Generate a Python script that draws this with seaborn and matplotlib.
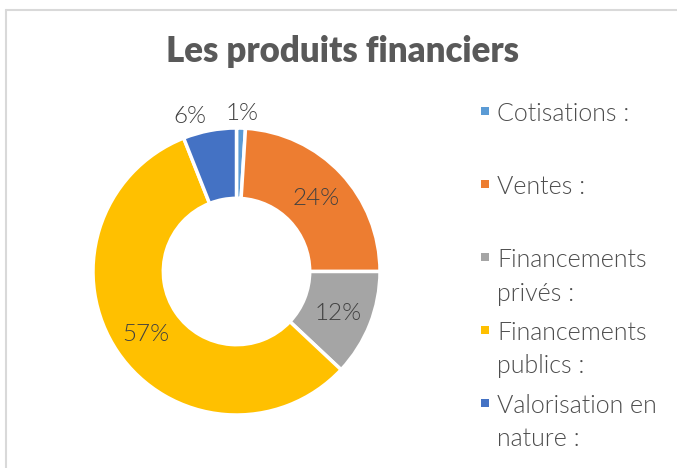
import matplotlib
matplotlib.use("Agg")
import matplotlib.pyplot as plt
import seaborn as sns
import numpy as np
from matplotlib.patches import Rectangle

# ---- data ----
categories = ["Cotisations :", "Ventes :", "Financements\nprivés :",
              "Financements\npublics :", "Valorisation en\nnature :"]
values = [1, 24, 12, 57, 6]
pct_labels = ["1%", "24%", "12%", "57%", "6%"]
title = "Les produits financiers"
colors = ["#5B9BD5", "#ED7D31", "#A5A5A5", "#FFC000", "#4472C4"]

sns.set_theme(style="white")
plt.rcParams['font.family'] = ['Lato', 'DejaVu Sans']
palette = sns.color_palette(colors)

W, H = 677, 468
fig = plt.figure(figsize=(W / 100, H / 100), dpi=100)
fig.patch.set_facecolor("white")

# frame lines (chart area border)
fig.add_artist(plt.Line2D([6 / W, 1], [1 - 10 / H, 1 - 10 / H], color="#D9D9D9", lw=1.5))
fig.add_artist(plt.Line2D([6 / W, 6 / W], [0, 1 - 10 / H], color="#D9D9D9", lw=1.5))

cx, cy, R = 236.5, 271.5, 143.5
ax = fig.add_axes([(cx - R) / W, (H - cy - R) / H, 2 * R / W, 2 * R / H])
wedges, _ = ax.pie(values, colors=palette, startangle=90, counterclock=False,
                   wedgeprops=dict(width=0.49, edgecolor="white", linewidth=2.5))
ax.set_xlim(-1, 1)
ax.set_ylim(-1, 1)
ax.set_aspect("equal")
ax.axis("off")

txt_w = 300
for w, lab in zip(wedges, pct_labels):
    mid = np.deg2rad((w.theta1 + w.theta2) / 2)
    share = (w.theta2 - w.theta1) / 360
    c, s = np.cos(mid), np.sin(mid)
    if share >= 0.1:
        ax.text(0.76 * c, 0.76 * s, lab, ha="center", va="center_baseline",
                fontsize=17.5, fontweight=txt_w, color="#404040")
    else:
        ha = "center" if abs(c) < 0.1 else ("right" if c < 0 else "left")
        ax.text(1.13 * c, 1.10 * s, lab, ha=ha, va="center",
                fontsize=17.5, fontweight=txt_w, color="#404040")

fig.text(343 / W, 1 - 52 / H, title, ha="center", va="center",
         fontsize=25, fontweight="heavy", color="#595959")

# legend (manual, Excel-like layout)
y0, step = 111, 73
for i, (cat, col) in enumerate(zip(categories, palette)):
    y = y0 + i * step
    fig.add_artist(Rectangle((481 / W, 1 - (y + 4) / H), 8 / W, 8 / H,
                             transform=fig.transFigure, color=col, lw=0))
    fig.text(497 / W, 1 - (y - 9) / H, cat, ha="left", va="top",
             fontsize=18, fontweight=txt_w, color="#4D4D4D", linespacing=1.5)

fig.savefig("out.png", dpi=100)
